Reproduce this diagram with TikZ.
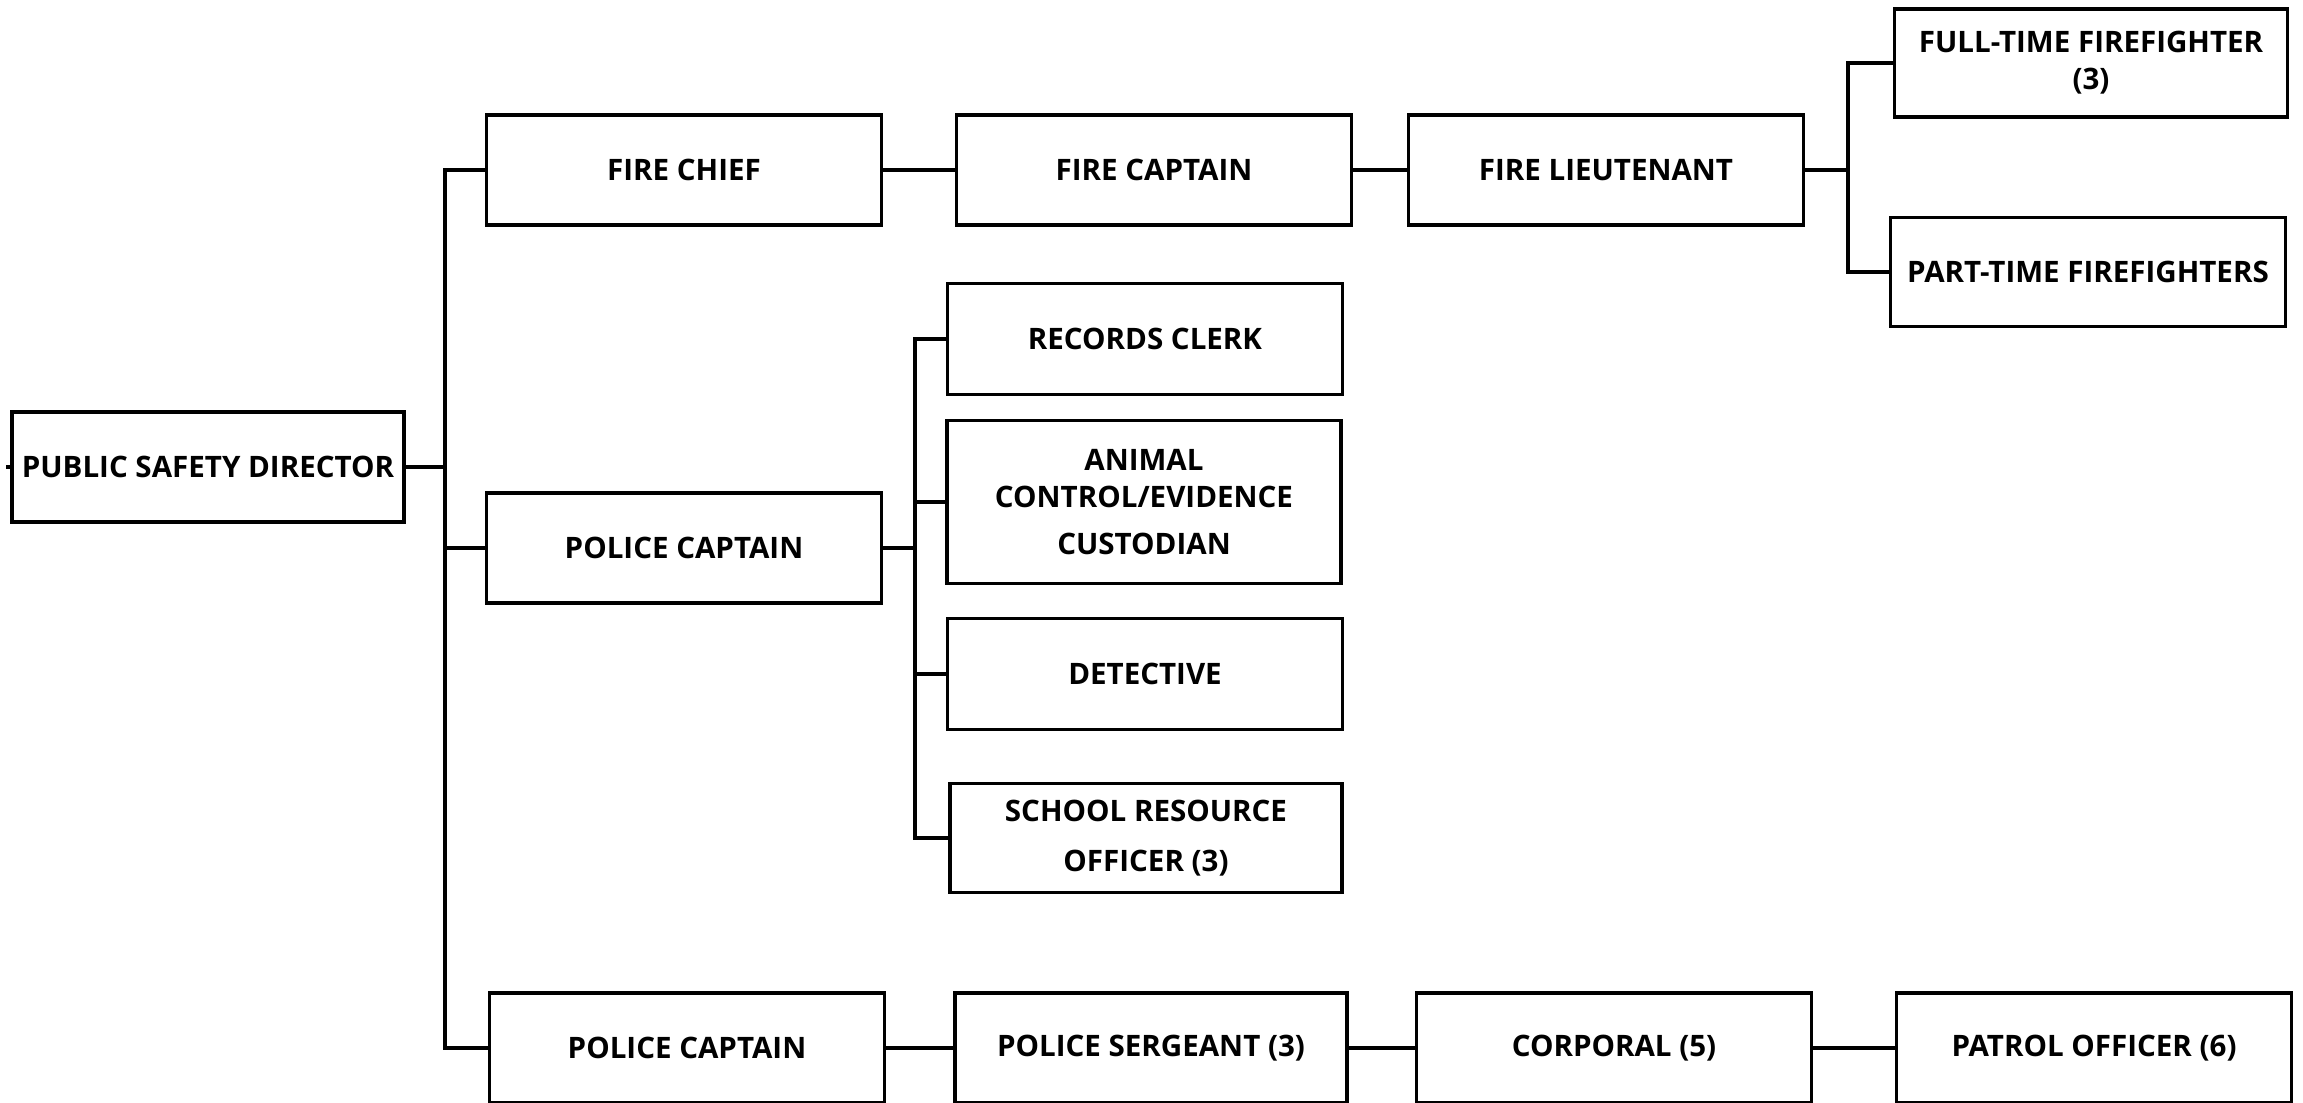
\documentclass[tikz,border=0pt]{standalone}
\usepackage{fontspec}
\setmainfont{Open Sans}
\usepackage{tikz}
\usetikzlibrary{calc,positioning}
\definecolor{ChartInk}{RGB}{0,0,0}

\tikzset{
  post/.style={draw=ChartInk,line width=1pt,fill=white,inner sep=0pt,
    minimum width=3.95cm,minimum height=1.1cm,align=center,
    font=\bfseries\fontsize{8.4}{10.5}\selectfont},
  link/.style={ChartInk,line width=0.9pt}
}

\begin{document}
\begin{tikzpicture}[x=0.01cm,y=-0.01cm]
      \clip (0,0) rectangle (2303,1102);
      \fill[white] (0,0) rectangle (2303,1102);
      % trunks of the tree
      \coordinate (tA) at (445,0);
      \coordinate (tB) at (915,0);
      \coordinate (tC) at (1848,0);
      \node[post,minimum width=3.92cm] (psd) at (208,467) {PUBLIC SAFETY DIRECTOR};
      % fire side
      \node[post] (firechief) at (684,170) {FIRE CHIEF};
      \node[post] (firecapt) at (1154,170) {FIRE CAPTAIN};
      \node[post] (firelt) at (1606,170) {FIRE LIEUTENANT};
      \node[post,minimum width=3.93cm,minimum height=1.08cm] (ftff) at (2091,63)
        {FULL-TIME FIREFIGHTER\\(3)};
      \node[post,minimum height=1.09cm] (ptff) at (2088,272) {PART-TIME FIREFIGHTERS};
      % police, first captain
      \node[post] (polcapA) at (684,548) {POLICE CAPTAIN};
      \node[post,minimum height=1.11cm] (clerk) at (1145,339) {RECORDS CLERK};
      \node[post,minimum width=3.94cm,minimum height=1.63cm] (animal) at (1144,502)
        {ANIMAL\\CONTROL/EVIDENCE\\[3pt]CUSTODIAN};
      \node[post,minimum height=1.11cm] (detective) at (1145,674) {DETECTIVE};
      \node[post,minimum width=3.92cm,minimum height=1.09cm] (sro) at (1146,838)
        {SCHOOL RESOURCE\\[3.5pt]OFFICER (3)};
      % police, second captain
      \node[post] (polcapB) at (687,1048) {POLICE CAPTAIN};
      \node[post,minimum width=3.92cm] (sergeant) at (1151,1048) {POLICE SERGEANT (3)};
      \node[post] (corporal) at (1614,1048) {CORPORAL (5)};
      \node[post] (patrol) at (2094,1048) {PATROL OFFICER (6)};

      \draw[link] (psd.west) -- ++(-4,0);
      \draw[link] (psd.east) -- (psd.east -| tA);
      \draw[link] (firechief.west) -- (firechief.west -| tA) |- (polcapB.west);
      \draw[link] (polcapA.west) -- (polcapA.west -| tA);

      \draw[link] (firechief) -- (firecapt);
      \draw[link] (firecapt) -- (firelt);
      \draw[link] (firelt.east) -- (firelt.east -| tC);
      \draw[link] (ftff.west) -- (ftff.west -| tC) |- (ptff.west);

      \draw[link] (polcapA.east) -- (polcapA.east -| tB);
      \draw[link] (clerk.west) -- (clerk.west -| tB) |- (sro.west);
      \draw[link] (animal.west) -- (animal.west -| tB);
      \draw[link] (detective.west) -- (detective.west -| tB);

      \draw[link] (polcapB) -- (sergeant);
      \draw[link] (sergeant) -- (corporal);
      \draw[link] (corporal) -- (patrol);
    \end{tikzpicture}
\end{document}
